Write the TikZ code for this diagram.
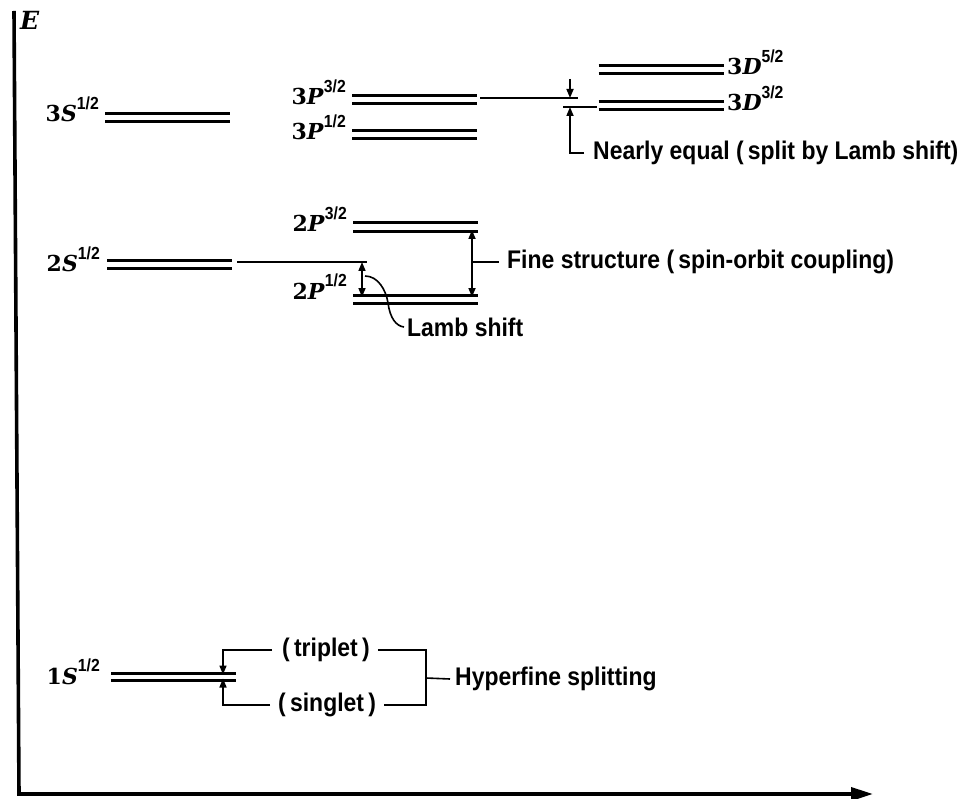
\documentclass[tikz,border=0pt]{standalone}
\usepackage{fontspec}
\setmainfont{DejaVu Serif}
\newfontfamily\lab[FakeStretch=0.9]{Liberation Sans}
\usetikzlibrary{arrows.meta}
\newcommand\lv[3]{\bfseries #1\textit{#2}\raisebox{12.5pt}{\fontsize{17.5}{17.5}\selectfont\lab\bfseries #3}}
\begin{document}
\begin{tikzpicture}[x=1pt,y=-1pt,
  lvl/.style={minimum width=125pt, minimum height=8pt, inner sep=0pt, outer sep=0pt},
  lvline/.style={line width=3pt},
  lvlab/.style={font=\fontsize{22}{22}\selectfont, inner sep=0pt},
  ann/.style={font=\fontsize{25.5}{25.5}\selectfont\lab\bfseries, inner sep=0pt},
  conn/.style={line width=1.6pt},
  tip/.style={-{Triangle[length=9pt,width=7pt]}},
  dtip/.style={{Triangle[length=9pt,width=7pt]}-{Triangle[length=9pt,width=7pt]}},
  axis/.style={line width=3.6pt, line join=miter}
]
\useasboundingbox (0,0) rectangle (973,799);

% axes
\coordinate (ytop) at (14,11);
\coordinate (orig) at (19,794);
\coordinate (xend) at (873,794);
\draw[axis, -{Triangle[length=22pt,width=13pt]}] (ytop) -- (orig) -- (xend);
\node[anchor=base west, inner sep=0pt, font=\fontsize{25}{25}\selectfont\bfseries\itshape] (E) at (20,30) {E};

% levels
\node[lvl] (s3) at (167.5,117.5) {};
\node[lvl] (p33) at (414.5,99.5) {};
\node[lvl] (p31) at (414.5,134.5) {};
\node[lvl] (d35) at (661,69.5) {};
\node[lvl] (d33) at (661,105.5) {};
\node[lvl] (s2) at (169.5,264.5) {};
\node[lvl, minimum height=9pt] (p23) at (415.5,227) {};
\node[lvl] (p21) at (415.5,299.5) {};
\node[lvl, minimum height=7pt] (s1) at (173.5,676.5) {};
\foreach \n in {s3,p33,p31,d35,d33,s2,p23,p21,s1}
  \draw[lvline] (\n.north west) -- (\n.north east) (\n.south west) -- (\n.south east);

% level labels
\node[lvlab, anchor=base east] (ls3) at (99,122) {\lv{3}{S}{1/2}};
\node[lvlab, anchor=base east] (lp33) at (346,105) {\lv{3}{P}{3/2}};
\node[lvlab, anchor=base east] (lp31) at (346,140) {\lv{3}{P}{1/2}};
\node[lvlab, anchor=base west] (ld35) at (727,75) {\lv{3}{D}{5/2}};
\node[lvlab, anchor=base west] (ld33) at (727,111) {\lv{3}{D}{3/2}};
\node[lvlab, anchor=base east] (ls2) at (100,272) {\lv{2}{S}{1/2}};
\node[lvlab, anchor=base east] (lp23) at (347,232) {\lv{2}{P}{3/2}};
\node[lvlab, anchor=base east] (lp21) at (347,299) {\lv{2}{P}{1/2}};
\node[lvlab, anchor=base east] (ls1) at (100,684) {\lv{1}{S}{1/2}};

% annotations
\node[ann, anchor=west] (nearly) at (593,153) {Nearly equal (\,split by Lamb shift)};
\node[ann, anchor=west] (fine) at (507,262) {Fine structure (\,spin-orbit coupling)};
\node[ann, anchor=west] (lamb) at (407,327) {Lamb shift};
\node[ann, anchor=west] (trip) at (282,650) {(\,triplet\,)};
\node[ann, anchor=west] (sing) at (278,705) {(\,singlet\,)};
\node[ann, anchor=west] (hyp) at (455,679) {Hyperfine splitting};

% nearly equal (3P3/2 vs 3D3/2)
\coordinate (a1) at (578,98);
\coordinate (a1top) at (570,79);
\coordinate (b1) at (563,107);
\coordinate (b2) at (570,153);
\draw[conn] ([xshift=3pt]p33.east |- a1) -- (a1);
\draw[conn, tip] (a1top) -- (a1top |- a1);
\draw[conn] (b1) -- ([xshift=-2pt]d33.west |- b1);
\draw[conn, tip] ([xshift=-9pt]nearly.west) -- (b2) -- (b2 |- b1);

% Lamb shift
\coordinate (lm) at (367,262);
\coordinate (lt) at (362,262);
\draw[conn] ([xshift=5pt]s2.east |- lm) -- (lm);
\draw[conn, dtip] (lt) -- ([yshift=-1.5pt]lt |- p21.north);
\coordinate (lc) at (365,276);
\draw[conn] (lc) .. controls (378,276) and (386,290) .. (388,303)
  .. controls (390,318) and (396,326) .. ([xshift=-3pt]lamb.west);

% fine structure
\coordinate (ft) at (472,262);
\draw[conn, dtip] ([yshift=1.5pt]ft |- p23.south) -- ([yshift=-1.5pt]ft |- p21.north);
\draw[conn] (ft) -- ([xshift=-8pt]fine.west);

% hyperfine
\coordinate (hx) at (223,650);
\coordinate (br) at (426,678);
\draw[conn, tip] ([xshift=-10pt]trip.west) -- (trip.west -| hx) -- ([yshift=-1.5pt]hx |- s1.north);
\draw[conn, tip] ([xshift=-8pt]sing.west) -- (sing.west -| hx) -- ([yshift=1.5pt]hx |- s1.south);
\draw[conn] ([xshift=8pt]trip.east) -- (trip.east -| br) -- (sing.east -| br) -- ([xshift=8pt]sing.east);
\draw[conn] (br) -- ([xshift=-5pt]hyp.west);
\end{tikzpicture}
\end{document}
